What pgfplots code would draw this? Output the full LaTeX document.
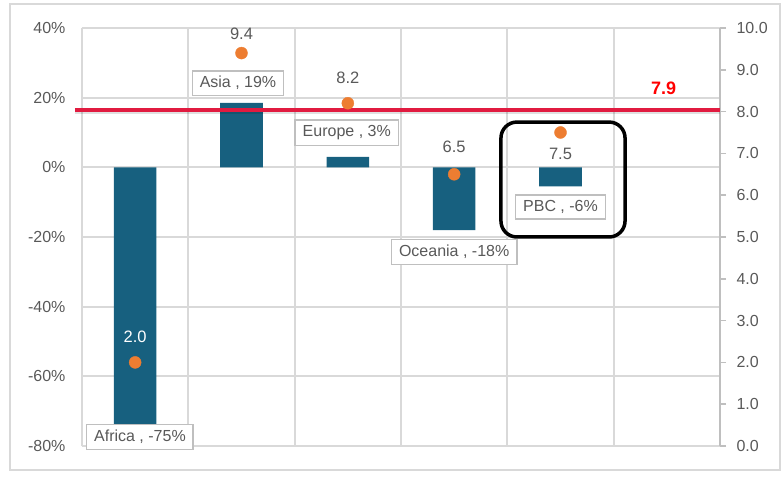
\documentclass[border=0pt]{standalone}
\usepackage{pgfplots}
\pgfplotsset{compat=1.18}
\usepackage{fontspec}
\setmainfont{Liberation Sans}
\definecolor{barblue}{HTML}{17607F}
\definecolor{dotorange}{HTML}{ED7D31}
\definecolor{gridgray}{HTML}{D9D9D9}
\definecolor{txtgray}{HTML}{595959}
\definecolor{linered}{HTML}{E11B40}
\definecolor{boxgray}{HTML}{BFBFBF}
\begin{document}
\begin{tikzpicture}[font=\fontsize{16}{19}\selectfont,
  lbox/.style={draw=boxgray, fill=white, line width=1.5pt, inner xsep=7.5pt, inner ysep=5.5pt, text=txtgray},
  vlab/.style={text=txtgray, font=\fontsize{16.5}{19}\selectfont}]
\begin{axis}[
  scale only axis, width=638pt, height=418pt,
  xmin=-0.5, xmax=5.5, ymin=-80, ymax=40,
  xtick={-0.5,0.5,1.5,2.5,3.5,4.5,5.5}, xticklabels={},
  ytick={-80,-60,-40,-20,0,20,40},
  yticklabels={-80\%,-60\%,-40\%,-20\%,0\%,20\%,40\%},
  grid=major, grid style={gridgray, line width=1.8pt},
  axis line style={draw=none},
  major tick length=0pt,
  yticklabel style={text=txtgray, xshift=-13pt},
  ybar, bar width=0.4,
]
\addplot[fill=barblue, draw=none] coordinates {(0,-75) (1,18.5) (2,3) (3,-18) (4,-5.5)};
\end{axis}
\begin{axis}[
  scale only axis, width=638pt, height=418pt,
  xmin=-0.5, xmax=5.5, ymin=0, ymax=10,
  axis x line=none, axis y line*=right,
  ytick={0,1,2,3,4,5,6,7,8,9,10},
  yticklabels={0.0,1.0,2.0,3.0,4.0,5.0,6.0,7.0,8.0,9.0,10.0},
  y axis line style={boxgray, line width=1.8pt},
  ytick style={boxgray, line width=1.5pt},
  tick align=outside, major tick length=6pt,
  yticklabel style={text=txtgray, xshift=7pt},
  clip=false,
]
% box labels
\node[lbox] at (axis cs:0.045,0.215) {Africa , -75\%};
\node[lbox] at (axis cs:0.967,8.68) {Asia , 19\%};
\node[lbox] at (axis cs:1.99,7.49) {Europe , 3\%};
\node[lbox] at (axis cs:3.0,4.64) {Oceania , -18\%};
\node[lbox] at (axis cs:4.0,5.72) {PBC , -6\%};
% average line
\addplot[black, opacity=0.12, line width=4pt, forget plot] coordinates {(-0.566,7.99) (5.5,7.99)};
\addplot[linered, line width=4pt] coordinates {(-0.566,8.04) (5.5,8.04)};
% dots
\addplot[only marks, mark=*, mark size=6pt, dotorange, mark options={draw=none, fill=dotorange}] coordinates {(0,2.0) (1,9.4) (2,8.2) (3,6.5) (4,7.5)};
% value labels
\node[vlab] at (axis cs:1,9.86) {9.4};
\node[vlab] at (axis cs:2,8.80) {8.2};
\node[vlab] at (axis cs:3,7.15) {6.5};
\node[vlab] at (axis cs:4,6.99) {7.5};
\node[vlab, text=white] at (axis cs:0,2.61) {2.0};
\node[text=red, font=\fontsize{18}{20}\selectfont\bfseries] at (axis cs:4.97,8.56) {7.9};
% highlight
\draw[black, line width=3.5pt, rounded corners=16pt] (axis cs:3.44,7.75) rectangle (axis cs:4.607,5.0);
\end{axis}
\draw[gridgray, line width=1.5pt] (-72pt,-24pt) rectangle (698pt,442pt);
\pgfresetboundingbox
\useasboundingbox (-82pt,-30pt) rectangle (701pt,446pt);
\end{tikzpicture}
\end{document}
